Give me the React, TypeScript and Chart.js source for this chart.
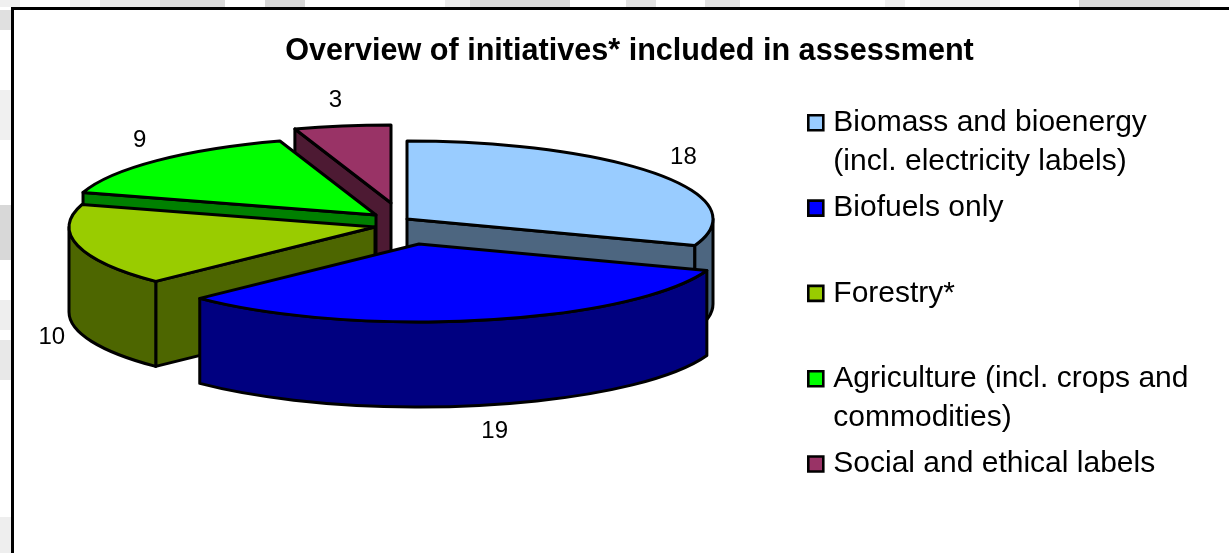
import React, { useEffect, useRef } from "react";
import { Chart, registerables } from "chart.js";

Chart.register(...registerables);

const categories = [
  ["Biomass and bioenergy", "(incl. electricity labels)"],
  ["Biofuels only", ""],
  ["Forestry*", ""],
  ["Agriculture (incl. crops and", "commodities)"],
  ["Social and ethical labels", ""],
];
const initiatives = [18, 19, 10, 9, 3];
const topColors = ["#99CCFF", "#0000FF", "#99CC00", "#00FF00", "#993366"];
const sideColors = ["#4D6680", "#000080", "#4D6600", "#008000", "#4D1A33"];
const titleText = "Overview of initiatives* included in assessment";

const FONT = "'Liberation Sans', Arial, sans-serif";
const CENTER = { x: 390, y: 222 };
const RX = 306;
const RY = 78;
const DEPTH = 85;
const LINE = 3;
const drawOrder = [4, 3, 0, 2, 1];
const explodeShift = [[17, -3], [29, 22], [-15, 5], [-14, -7], [1, -19]];
const labelNudge = [[26, -17], [11, 111], [-26, 92], [-17, -20], [-7, -26]];

const topFringe = [[0, 20, "#f0f0f0"], [70, 90, "#eeeeee"], [100, 160, "#e8e8e8"], [160, 225, "#dadada"], [265, 305, "#d8d8d8"], [445, 470, "#ececec"], [470, 570, "#dcdcdc"], [626, 656, "#e2e2e2"], [705, 740, "#e2e2e2"], [885, 905, "#f0f0f0"], [920, 1000, "#eeeeee"], [1079, 1170, "#d8d8d8"], [1170, 1200, "#e8e8e8"]];
const leftFringe = [[10, 30, "#e0e0e0"], [90, 140, "#f0f0f0"], [205, 260, "#d8d8d8"], [300, 330, "#eeeeee"], [340, 380, "#e8e8e8"], [517, 553, "#eeeeee"]];

const pie3d = {
  id: "pie3d",
  beforeDraw(chart: any) {
    const { ctx, width, height } = chart;
    ctx.save();
    ctx.fillStyle = "#ffffff";
    ctx.fillRect(0, 0, width, height);
    for (const [a, b, c] of topFringe as any) {
      ctx.fillStyle = c;
      ctx.fillRect(a, 0, b - a, 7);
    }
    for (const [a, b, c] of leftFringe as any) {
      ctx.fillStyle = c;
      ctx.fillRect(0, a, 11, b - a);
    }
    ctx.fillStyle = "#000000";
    ctx.fillRect(11, 7, width - 11, 3);
    ctx.fillRect(11, 7, 3, height - 7);
    ctx.restore();
  },
  afterLayout(chart: any) {
    const lg = chart.legend;
    const w = lg.right - lg.left;
    lg.left = 806;
    lg.right = lg.left + w;
    lg.top = 100.5;
    lg.bottom = 100.5 + lg.height;
  },
  beforeDatasetsDraw(chart: any) {
    const { ctx } = chart;
    const arcs = chart.getDatasetMeta(0).data;
    ctx.save();
    ctx.lineWidth = LINE;
    ctx.lineJoin = "round";
    ctx.strokeStyle = "#000000";
    for (const i of drawOrder) {
      const arc = arcs[i];
      const cx = CENTER.x + explodeShift[i][0];
      const cy = CENTER.y + explodeShift[i][1];
      const s = arc.startAngle;
      const e = arc.endAngle;
      const rim = (t: number) => [cx + RX * Math.cos(t), cy + RY * Math.sin(t)];
      const quad = (t: number) => {
        const [px, py] = rim(t);
        ctx.beginPath();
        ctx.moveTo(cx, cy);
        ctx.lineTo(px, py);
        ctx.lineTo(px, py + DEPTH);
        ctx.lineTo(cx, cy + DEPTH);
        ctx.closePath();
        ctx.fillStyle = sideColors[i];
        ctx.fill();
        ctx.stroke();
      };
      if (-Math.cos(s) > 0) quad(s);
      if (Math.cos(e) > 0) quad(e);
      // Outer wall: the front half of the rim only.
      for (const k of [0, 2]) {
        const a = Math.max(s, k * Math.PI);
        const b = Math.min(e, k * Math.PI + Math.PI);
        if (b > a) {
          ctx.beginPath();
          ctx.ellipse(cx, cy, RX, RY, 0, a, b);
          ctx.ellipse(cx, cy + DEPTH, RX, RY, 0, b, a, true);
          ctx.closePath();
          ctx.fillStyle = sideColors[i];
          ctx.fill();
          ctx.stroke();
        }
      }
      // Top face: the library's own arc, squashed into perspective.
      ctx.save();
      ctx.translate(cx, cy);
      ctx.scale(RX / arc.outerRadius, RY / arc.outerRadius);
      ctx.translate(-arc.x, -arc.y);
      arc.draw(ctx);
      ctx.restore();
      ctx.beginPath();
      ctx.moveTo(cx, cy);
      ctx.ellipse(cx, cy, RX, RY, 0, s, e);
      ctx.closePath();
      ctx.stroke();
    }
    ctx.fillStyle = "#000000";
    ctx.font = `24px ${FONT}`;
    ctx.textAlign = "center";
    ctx.textBaseline = "middle";
    arcs.forEach((arc: any, i: number) => {
      const mid = (arc.startAngle + arc.endAngle) / 2;
      const x = CENTER.x + explodeShift[i][0] + RX * Math.cos(mid) + labelNudge[i][0];
      const y = CENTER.y + explodeShift[i][1] + RY * Math.sin(mid) + labelNudge[i][1];
      ctx.fillText(String(initiatives[i]), x, y);
    });
    ctx.restore();
    return false;
  },
};

export default function App() {
  const ref = useRef<HTMLCanvasElement | null>(null);
  useEffect(() => {
    const chart = new Chart(ref.current as HTMLCanvasElement, {
      type: "pie",
      data: {
        labels: categories.map((c) => c.join(" ").trim()),
        datasets: [{ data: initiatives, backgroundColor: topColors, borderWidth: 0 }],
      },
      plugins: [pie3d],
      options: {
        responsive: false,
        animation: false,
        layout: { padding: { left: 30 } },
        plugins: {
          tooltip: { enabled: false },
          title: {
            display: true,
            text: titleText,
            color: "#000000",
            font: { family: FONT, size: 30.6, weight: "bold", lineHeight: 1.2 },
            padding: { top: 33, bottom: 10 },
          },
          legend: {
            position: "right",
            align: "start",
            labels: {
              color: "#000000",
              font: { family: FONT, size: 30, lineHeight: 1.3 },
              usePointStyle: true,
              boxWidth: 5,
              boxHeight: 15,
              padding: 7.3,
              generateLabels: () =>
                categories.map((c, i) => ({
                  text: c,
                  fillStyle: topColors[i],
                  strokeStyle: "#000000",
                  lineWidth: 2.6,
                  pointStyle: "rect",
                  hidden: false,
                  index: i,
                })),
            },
          },
        },
      },
    } as any);
    return () => chart.destroy();
  }, []);
  return (
    <div style={{ position: "absolute", left: 0, top: 0, width: 1229, height: 553 }}>
      <canvas ref={ref} width={1229} height={553} style={{ display: "block" }} />
    </div>
  );
}
